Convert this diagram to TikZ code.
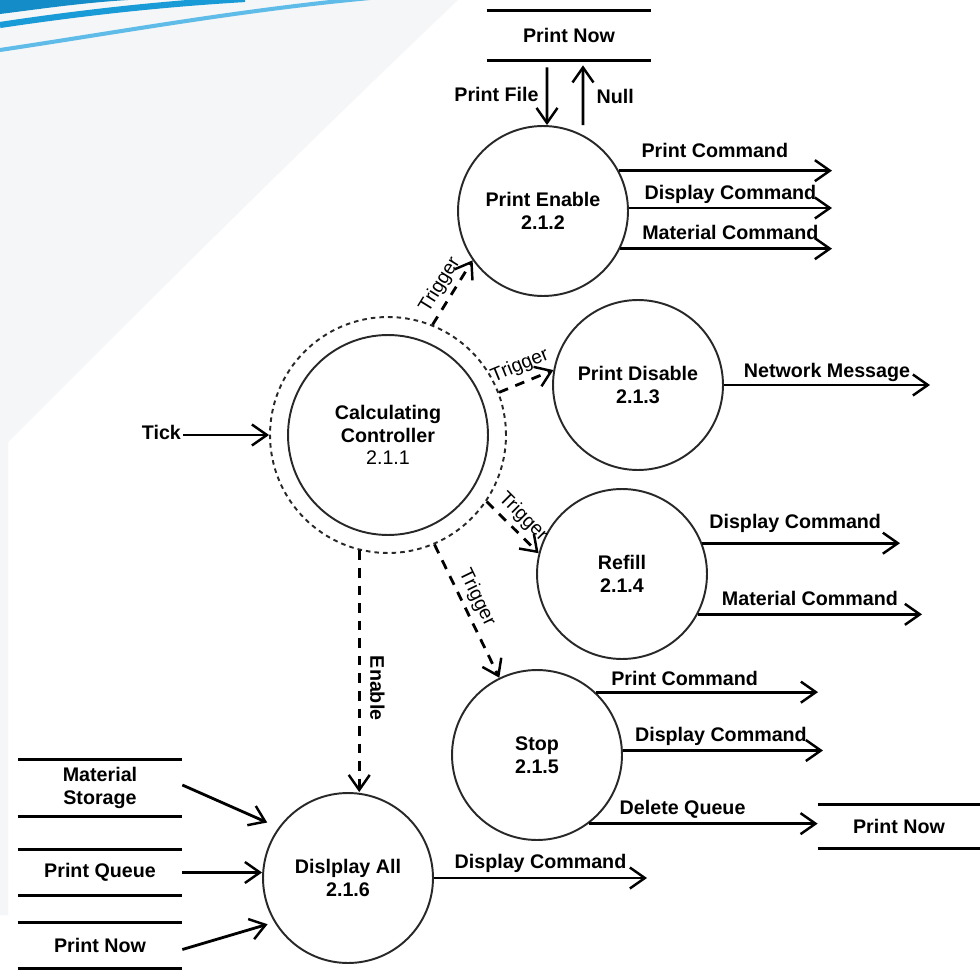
\documentclass[tikz,border=0pt]{standalone}
\usepackage{fontspec}
\setmainfont{Liberation Sans}
\usetikzlibrary{arrows.meta,calc}
\definecolor{swA}{RGB}{20,140,200}
\definecolor{swB}{RGB}{25,155,215}
\definecolor{swC}{RGB}{95,188,232}
\definecolor{fan}{RGB}{245,246,248}
\definecolor{circ}{RGB}{40,40,40}
\begin{document}
\begin{tikzpicture}[x=0.02cm,y=-0.02cm,
  bf/.style={font=\bfseries\fontsize{11.2}{13}\selectfont},
  proc/.style={circle,draw=circ,line width=1.1pt,minimum size=3.4cm,inner sep=0pt,align=center,bf},
  lbl/.style={bf,inner sep=2pt,text height=8pt,text depth=2.5pt},
  trig/.style={font=\fontsize{11}{12}\selectfont,inner sep=1.5pt},
  flow/.style={line width=1.6pt,-{Straight Barb[length=3mm,width=4.2mm,line width=1.4pt]}},
  dflow/.style={flow,dash pattern=on 5.5pt off 4.5pt},
  store/.style={minimum width=3.28cm,inner sep=0pt,align=center,bf},
  sline/.style={line width=1.7pt}
]
\useasboundingbox (0,0) rectangle (980,973);
\fill[white] (0,0) rectangle (980,973);
% slide background
\fill[fan] (0,0) -- (458,0) .. controls (300,150) and (120,330) .. (8,442) -- (8,915) -- (0,915) -- cycle;
\fill[swA] (0,0) -- (0,14) .. controls (40,9) and (80,3) .. (128,0) -- cycle;
\draw[swB,line width=3.5pt] (0,25) .. controls (80,13) and (160,4) .. (245,-1);
\draw[swC,line width=2.3pt] (0,50) .. controls (120,32) and (240,10) .. (370,-2);

% processes
\node[circle,draw=circ,line width=1.1pt,dash pattern=on 2.6pt off 2.3pt,minimum size=4.72cm] (ccd) at (388,435) {};
\node[proc,minimum size=4cm] (cc) at (388,435) {Calculating\\Controller\\{\mdseries 2.1.1}};
\node[proc] (pe) at (543,211) {Print Enable\\2.1.2};
\node[proc] (pd) at (638,385) {Print Disable\\2.1.3};
\node[proc] (rf) at (622,574) {Refill\\2.1.4};
\node[proc] (st) at (537,755) {Stop\\2.1.5};
\node[proc] (da) at (348,878) {Dislplay All\\2.1.6};

% stores
\node[store,minimum height=0.98cm] (pnt) at (569,35.5) {Print Now};
\node[store,minimum height=1.12cm] (ms) at (100,788) {Material\\Storage};
\node[store,minimum height=0.9cm] (pq) at (100,872.5) {Print Queue};
\node[store,minimum height=0.9cm] (pnl) at (100,945.5) {Print Now};
\node[store,minimum width=3.24cm,minimum height=0.86cm] (pnr) at (899,826.5) {Print Now};
\foreach \s in {pnt,ms,pq,pnl,pnr}{
  \draw[sline] (\s.north west) -- (\s.north east);
  \draw[sline] (\s.south west) -- (\s.south east);
}

% free ends
\coordinate (peE) at (832,0);
\coordinate (pdE) at (930,0);
\coordinate (rfE1) at (900,0);
\coordinate (rfE2) at (922,0);
\coordinate (stE1) at (818,0);
\coordinate (stE2) at (823,0);
\coordinate (daE) at (647,0);

% Tick
\node[lbl,anchor=east,inner sep=1pt] (tick) at (183,435) {Tick};
\draw[flow] (tick.east) -- (ccd.west);

% Print Now <-> Print Enable
\draw[flow] ([xshift=-0.44cm,yshift=-0.14cm]pnt.south) -- ([xshift=0.08cm]pe.north)
  node[lbl,left=2pt,midway] {Print File};
\draw[flow] ([xshift=0.8cm]pe.north) -- ([xshift=0.28cm,yshift=-0.1cm]pnt.south)
  node[lbl,right=5pt,pos=0.45] {Null};

% Print Enable outputs
\draw[flow] (pe.28) -- (pe.28 -| peE) node[lbl,above=2.3pt,pos=0.45] {Print Command};
\draw[flow] (pe.2) -- (pe.2 -| peE) node[lbl,above=-0.5pt,midway] {Display Command};
\draw[flow] (pe.-26) -- (pe.-26 -| peE) node[lbl,above,pos=0.52] {Material Command};

% Print Disable
\draw[flow] (pd.east) -- (pd.east -| pdE) node[lbl,above=-1pt,midway] {Network Message};

% Refill
\draw[flow] (rf.21) -- (rf.21 -| rfE1) node[lbl,above=2.8pt,pos=0.47] {Display Command};
\draw[flow] (rf.-28) -- (rf.-28 -| rfE2) node[lbl,above,midway] {Material Command};

% Stop
\draw[flow] (st.47) -- (st.47 -| stE1) node[lbl,above=-1.5pt,pos=0.4] {Print Command};
\draw[flow] (st.3) -- (st.3 -| stE2) node[lbl,above,pos=0.49] {Display Command};
\draw[flow] (st.-53) -- (st.-53 -| pnr.west) node[lbl,above,pos=0.41] {Delete Queue};

% Display All
\draw[flow] (da.east) -- (da.east -| daE) node[lbl,above,midway] {Display Command};
\draw[flow,shorten >=7pt] ([yshift=0.06cm]ms.east) -- (da.144);
\draw[flow] (pq.east) -- (pq.east -| da.west);
\draw[flow,shorten >=4pt] ([yshift=-0.08cm]pnl.east) -- (da.211);

% Triggers
\draw[dflow] (ccd.68) -- (pe.215) node[trig,sloped,above=1pt,midway] {Trigger};
\draw[dflow] (ccd.21) -- (pd.170) node[trig,sloped,above=2pt,midway] {Trigger};
\draw[dflow] (ccd.-34.5) -- (rf.166) node[trig,sloped,above=1pt,midway] {Trigger};
\draw[dflow] (ccd.-67) -- (st.116) node[trig,sloped,above=1pt,pos=0.45] {Trigger};
\draw[dflow] (ccd.-104) -- (ccd.-104 |- da.north) node[lbl,sloped,above=1pt,pos=0.57] {Enable};
\end{tikzpicture}
\end{document}
